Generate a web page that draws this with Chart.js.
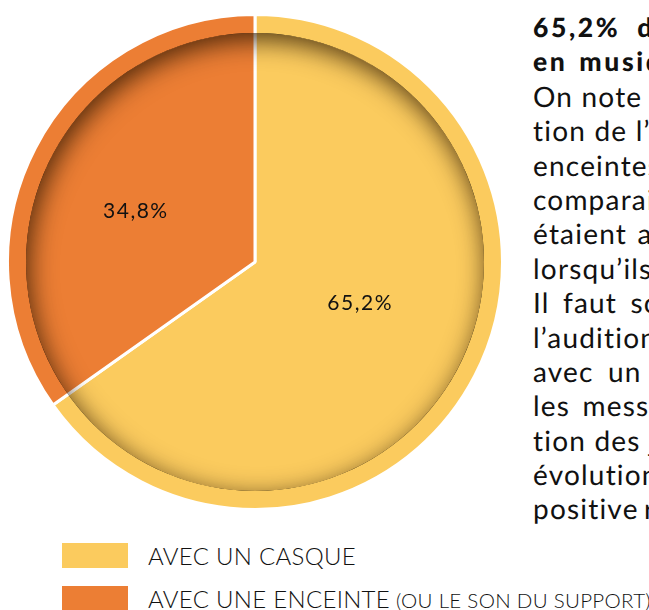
<!DOCTYPE html>
<html lang="fr">
<head>
<meta charset="utf-8">
<title>Écoute de la musique : casque ou enceinte</title>
<script src="https://cdn.jsdelivr.net/npm/chart.js@4.4.1/dist/chart.umd.min.js"></script>
<style>
  html, body { margin: 0; padding: 0; background: #fff; }
  body { width: 649px; height: 610px; overflow: hidden; position: relative; font-family: Lato, "Open Sans", sans-serif; color: #111; }
  #pieWrap { position: absolute; left: 6px; top: 13px; width: 498px; height: 498px; }
  #article { position: absolute; left: 533px; top: 10px; width: 116px; overflow: hidden; background: #fff; }
  #article div { white-space: nowrap; height: 34.4px; line-height: 34.4px; font-size: 28px; letter-spacing: 1.2px; font-weight: 400; color: #111; text-rendering: geometricPrecision; }
  #article div.head { font-weight: 900; font-size: 26.5px; letter-spacing: 2.6px; }
  #legend { position: absolute; left: 62px; top: 543px; }
  .item { position: absolute; left: 0; height: 25px; white-space: nowrap; }
  .swatch { position: absolute; left: 0; top: 0; width: 66px; height: 25px; }
  .lbl { position: absolute; left: 86px; top: 0; line-height: 25px; font-size: 24px; font-weight: 300; letter-spacing: 0.3px; }
  .lbl small { font-size: 20.5px; }
</style>
</head>
<body>
<div id="pieWrap"><canvas id="pie" width="498" height="498"></canvas></div>
<div id="article"></div>
<div id="legend"></div>
<script>
// Répartition des modes d'écoute (en %)
const categories = ["AVEC UN CASQUE", "AVEC UNE ENCEINTE"];
const categoryNotes = ["", "(OU LE SON DU SUPPORT)"];
const shares = [65.2, 34.8];
const colors = ["#FBCB5E", "#EC7E34"];

// Texte de l'article, ligne par ligne (colonne de droite)
const headLines = ["65,2% des", "en musique"];
const bodyLines = [
  "On note une",
  "tion de l’u",
  "enceintes.",
  "comparaiso",
  "étaient au",
  "lorsqu’ils é",
  "Il faut sou",
  "l’audition",
  "avec un ca",
  "les messa",
  "tion des je",
  "évolution",
  "positive re"
];
const headSpacing = [8, 3];
const bodySpacing = [0, 0, 0, 0, 2, 0, 5, 0, 6, 4, 0, 0, -3];

const article = document.getElementById('article');
headLines.forEach((t, i) => {
  const d = document.createElement('div');
  d.className = 'head';
  d.style.wordSpacing = headSpacing[i] + 'px';
  d.textContent = t;
  article.appendChild(d);
});
bodyLines.forEach((t, i) => {
  const d = document.createElement('div');
  d.style.wordSpacing = bodySpacing[i] + 'px';
  d.textContent = t;
  article.appendChild(d);
});

// Légende
const legend = document.getElementById('legend');
categories.forEach((c, i) => {
  const item = document.createElement('div');
  item.className = 'item';
  item.style.top = (i * 43) + 'px';
  const sw = document.createElement('div');
  sw.className = 'swatch';
  sw.style.background = colors[i];
  const lbl = document.createElement('div');
  lbl.className = 'lbl';
  lbl.textContent = c;
  if (categoryNotes[i]) {
    const s = document.createElement('small');
    s.textContent = ' ' + categoryNotes[i];
    lbl.appendChild(s);
  }
  item.appendChild(sw);
  item.appendChild(lbl);
  legend.appendChild(item);
});

const fmt = v => v.toFixed(1).replace('.', ',') + '%';

// Ombre intérieure qui donne le relief du disque
const innerShadow = {
  id: 'innerShadow',
  afterDatasetsDraw(chart) {
    const arc = chart.getDatasetMeta(0).data[0];
    if (!arc) return;
    const { x, y, outerRadius } = arc.getProps(['x', 'y', 'outerRadius'], true);
    const rIn = outerRadius - 1.5 - 17;
    const ctx = chart.ctx;
    ctx.save();
    ctx.beginPath();
    ctx.arc(x, y, rIn, 0, Math.PI * 2);
    ctx.clip();
    ctx.shadowColor = 'rgba(40, 20, 0, 0.8)';
    ctx.shadowBlur = 26;
    ctx.shadowOffsetX = 3;
    ctx.shadowOffsetY = 7;
    ctx.beginPath();
    ctx.arc(x, y, rIn + 60, 0, Math.PI * 2);
    ctx.lineWidth = 120;
    ctx.strokeStyle = '#000';
    ctx.stroke();
    ctx.restore();
  }
};

// Valeurs inscrites dans chaque part
const sliceLabels = {
  id: 'sliceLabels',
  afterDatasetsDraw(chart) {
    const ctx = chart.ctx;
    const meta = chart.getDatasetMeta(0);
    ctx.save();
    ctx.font = '400 21px Lato';
    ctx.letterSpacing = '1.5px';
    ctx.fillStyle = '#111';
    ctx.textAlign = 'center';
    ctx.textBaseline = 'middle';
    meta.data.forEach((arc, i) => {
      const p = arc.getProps(['x', 'y', 'startAngle', 'endAngle', 'outerRadius'], true);
      const mid = (p.startAngle + p.endAngle) / 2 - 5 * Math.PI / 180;
      const r = p.outerRadius * 0.49;
      const lx = p.x + Math.cos(mid) * r - 7;
      const ly = p.y + Math.sin(mid) * r - 5;
      ctx.fillText(fmt(chart.data.datasets[0].data[i]), lx, ly);
    });
    ctx.restore();
  }
};

new Chart(document.getElementById('pie'), {
  type: 'pie',
  data: {
    labels: categories,
    datasets: [{
      data: shares,
      backgroundColor: colors,
      borderColor: '#ffffff',
      borderWidth: 3,
      hoverOffset: 0
    }]
  },
  options: {
    responsive: false,
    animation: false,
    devicePixelRatio: 1,
    layout: { padding: 0 },
    plugins: {
      legend: { display: false },
      tooltip: { enabled: false }
    },
    events: []
  },
  plugins: [innerShadow, sliceLabels]
});
</script>
</body>
</html>
